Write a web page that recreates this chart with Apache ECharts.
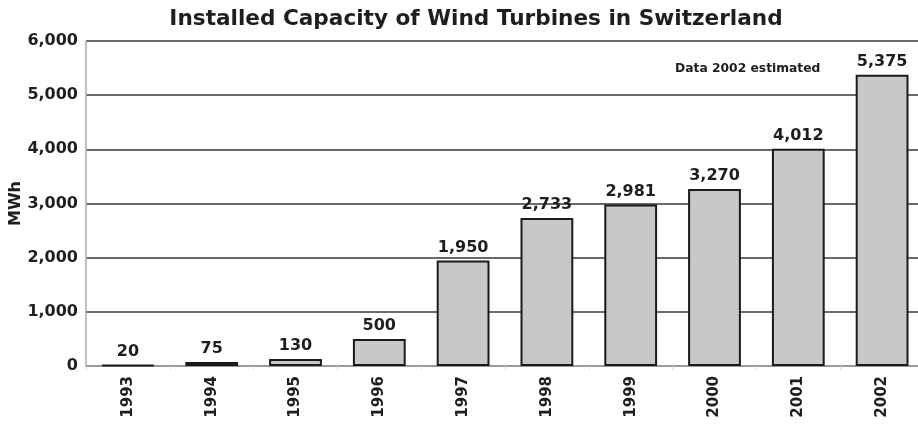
<!DOCTYPE html>
<html>
<head>
<meta charset="utf-8">
<script src="https://cdn.jsdelivr.net/npm/echarts@6/dist/echarts.min.js"></script>
<style>
  html, body { margin: 0; padding: 0; background: #fff; }
  #chart { width: 918px; height: 425px; }
</style>
</head>
<body>
<div id="chart"></div>
<script>
// Installed wind turbine capacity in Switzerland, 1993–2002
const years = ['1993', '1994', '1995', '1996', '1997', '1998', '1999', '2000', '2001', '2002'];
const capacity = [20, 75, 130, 500, 1950, 2733, 2981, 3270, 4012, 5375];
const yTicks = { min: 0, max: 6000, interval: 1000 };
const titleText = 'Installed Capacity of Wind Turbines in Switzerland';
const noteText = 'Data 2002 estimated';
const unitText = 'MWh';

const fmt = v => v.toLocaleString('en-US');
const font = '"DejaVu Sans", Verdana, sans-serif';
const ink = '#1e1e1e';

const chart = echarts.init(document.getElementById('chart'));
chart.setOption({
  animation: false,
  backgroundColor: '#fff',
  title: {
    text: titleText,
    left: 471,
    textAlign: 'center',
    top: 3,
    textStyle: { fontFamily: font, fontSize: 21.6, fontWeight: 'bold', color: ink }
  },
  // the last category runs slightly past the right edge of the canvas
  grid: { left: 86, right: -6, top: 41, bottom: 59, containLabel: false, outerBoundsMode: 'none' },
  xAxis: {
    type: 'category',
    data: years,
    axisLine: { lineStyle: { color: '#aaa', width: 1.5 } },
    axisTick: { show: true, length: 3, lineStyle: { color: '#ccc' } },
    axisLabel: {
      rotate: 90,
      margin: 10,
      fontFamily: font,
      fontSize: 15,
      fontWeight: 'bold',
      color: ink
    }
  },
  yAxis: {
    type: 'value',
    min: yTicks.min,
    max: yTicks.max,
    interval: yTicks.interval,
    name: unitText,
    nameLocation: 'middle',
    nameGap: 62,
    nameMoveOverlap: false,
    nameRotate: 90,
    nameTextStyle: { fontFamily: font, fontSize: 16, fontWeight: 'bold', color: ink },
    axisLine: { show: true, lineStyle: { color: '#aaa', width: 1.5 } },
    axisTick: { show: false },
    axisLabel: {
      formatter: fmt,
      margin: 8,
      fontFamily: font,
      fontSize: 16,
      fontWeight: 'bold',
      color: ink
    },
    splitLine: { lineStyle: { color: '#6a6a6a', width: 2 } }
  },
  series: [{
    type: 'bar',
    data: capacity,
    barWidth: '63%',
    itemStyle: { color: '#c8c8c8', borderColor: '#1a1a1a', borderWidth: 2 },
    label: {
      show: true,
      position: 'top',
      distance: 5,
      formatter: p => fmt(p.value),
      fontFamily: font,
      fontSize: 16,
      fontWeight: 'bold',
      color: ink
    }
  }],
  graphic: [{
    type: 'text',
    left: 675,
    top: 63,
    style: { text: noteText, font: 'bold 12.3px ' + font, fill: ink }
  }]
});
</script>
</body>
</html>
